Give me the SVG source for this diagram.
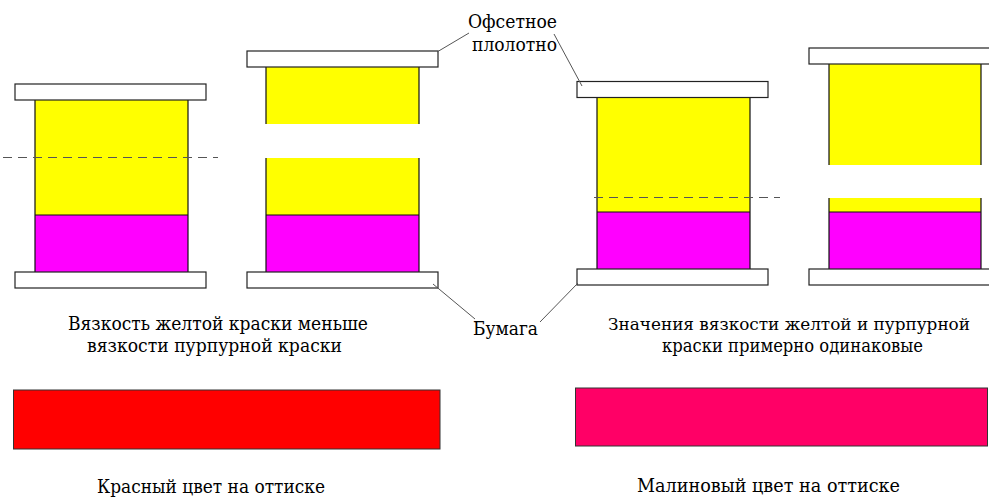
<svg xmlns="http://www.w3.org/2000/svg" width="989" height="497" viewBox="0 0 989 497">
<style>
.plate{fill:#fff;stroke:#222;stroke-width:1.2}
.y{fill:#ffff00}
.m{fill:#ff00ff}
.edge{stroke:#111;stroke-width:1.2;fill:none}
.dash{stroke:#555;stroke-width:1.2;stroke-dasharray:9,6;fill:none}
.lead{stroke:#555;stroke-width:1;fill:none}
</style>
<rect width="989" height="497" fill="#fff"/>
<g id="stack1">
<rect class="y" x="35" y="100" width="153" height="115"/>
<rect class="m" x="35" y="215" width="153" height="57"/>
<path class="edge" d="M35,100V272M188,100V272M35,215H188"/>
<rect class="plate" x="15" y="84" width="191" height="16"/>
<rect class="plate" x="15" y="272" width="191" height="16"/>
</g>
<g id="stack2">
<rect class="y" x="266" y="67" width="153" height="57"/>
<rect class="y" x="266" y="158" width="153" height="57"/>
<rect class="m" x="266" y="215" width="153" height="57"/>
<path class="edge" d="M266,67V124M419,67V124M266,158V272M419,158V272M266,215H419"/>
<rect class="plate" x="247" y="51" width="191" height="16"/>
<rect class="plate" x="247" y="272" width="191" height="16"/>
</g>
<g id="stack3">
<rect class="y" x="597" y="97" width="153" height="115"/>
<rect class="m" x="597" y="212" width="153" height="57"/>
<path class="edge" d="M597,97V269M750,97V269M597,212H750"/>
<rect class="plate" x="577" y="81.5" width="191" height="16"/>
<rect class="plate" x="577" y="269" width="191" height="16"/>
</g>
<g id="stack4">
<rect class="y" x="829" y="64" width="152" height="101"/>
<rect class="y" x="829" y="198" width="152" height="14"/>
<rect class="m" x="829" y="212" width="152" height="57"/>
<path class="edge" d="M829,64V165M981,64V165M829,198V269M981,198V269M829,212H981"/>
<rect class="plate" x="809" y="48" width="191" height="16"/>
<rect class="plate" x="809" y="269" width="191" height="16"/>
</g>
<g id="connectors">
<path class="dash" d="M3,157.5H218"/>
<path class="dash" d="M594,197.5H780"/>
<path class="lead" d="M469,33L437,52"/>
<path class="lead" d="M554,34L582,86"/>
<path class="lead" d="M433,284L475,319"/>
<path class="lead" d="M540,322L578,283"/>
</g>
<g font-family="'DejaVu Serif', 'Liberation Serif', serif" font-size="19" fill="#000">
<g id="label-offset">
<text x="468" y="28" textLength="89" lengthAdjust="spacingAndGlyphs">Офсетное</text>
<text x="472" y="51" textLength="85" lengthAdjust="spacingAndGlyphs">плолотно</text>
</g>
<g id="label-paper">
<text x="473" y="335" textLength="65" lengthAdjust="spacingAndGlyphs">Бумага</text>
</g>
<g id="caption-left">
<text x="68" y="330" textLength="300" lengthAdjust="spacingAndGlyphs">Вязкость желтой краски меньше</text>
<text x="87" y="352" textLength="255" lengthAdjust="spacingAndGlyphs">вязкости пурпурной краски</text>
</g>
<g id="caption-right">
<text x="608" y="330" font-size="16.5" textLength="362" lengthAdjust="spacingAndGlyphs">Значения вязкости желтой и пурпурной</text>
<text x="662" y="352" textLength="261" lengthAdjust="spacingAndGlyphs">краски примерно одинаковые</text>
</g>
<g id="swatch-red">
<rect x="13.5" y="390" width="426.5" height="59" fill="#ff0000" stroke="#333" stroke-width="1"/>
<text x="97" y="493" textLength="228" lengthAdjust="spacingAndGlyphs">Красный цвет на оттиске</text>
</g>
<g id="swatch-crimson">
<rect x="575.5" y="388" width="412" height="58" fill="#ff0066" stroke="#333" stroke-width="1"/>
<text x="637" y="492" textLength="263" lengthAdjust="spacingAndGlyphs">Малиновый цвет на оттиске</text>
</g>
</g>
</svg>
